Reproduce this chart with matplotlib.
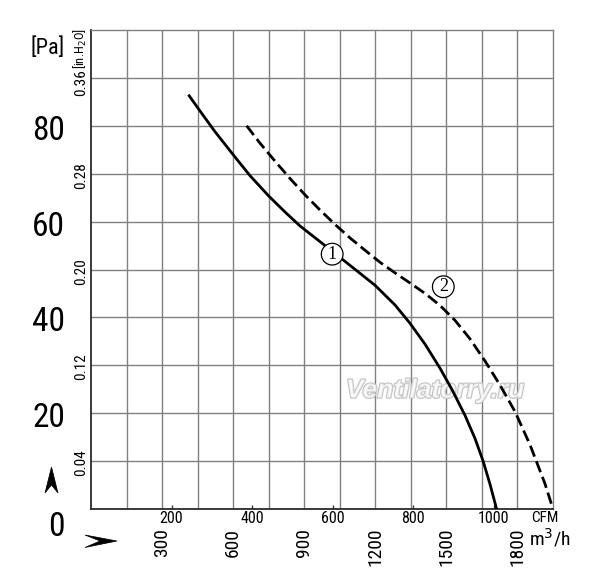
import matplotlib
matplotlib.use('Agg')
import matplotlib.pyplot as plt
from matplotlib import transforms, patheffects
from matplotlib.patches import Polygon
from matplotlib import font_manager as fm

# ---------------- data ----------------
# flow in m3/h, static pressure in Pa
curve1_flow = [411, 460, 523, 601, 671, 751, 819, 882, 967, 1072, 1199, 1283, 1346, 1410,
               1473, 1524, 1579, 1621, 1655, 1684, 1712]
curve1_pa = [86.5, 83.1, 78.8, 73.9, 69.6, 65.3, 62.0, 59.1, 55.8, 51.7, 46.7, 42.6, 38.8, 34.4,
             29.4, 24.9, 19.5, 14.7, 10.0, 5.2, 0.0]

curve2_flow = [657, 713, 777, 840, 903, 967, 1030, 1093, 1157, 1220, 1283, 1346, 1410, 1473,
               1536, 1600, 1663, 1726, 1790, 1853, 1916, 1950]
curve2_pa = [80.0, 76.4, 72.6, 69.0, 65.6, 62.4, 59.4, 56.6, 54.0, 51.5, 49.3, 47.2, 45.0, 42.5,
             39.4, 35.5, 30.9, 25.9, 20.3, 13.4, 5.3, 0.0]

pa_labels = [0, 20, 40, 60, 80]
inh2o_labels = [0.04, 0.12, 0.20, 0.28, 0.36]
cfm_labels = [200, 400, 600, 800, 1000]
m3h_labels = [300, 600, 900, 1200, 1500, 1800]

curve_tags = ['1', '2']
tag_flow = [1018, 1487]
tag_pa = [53.2, 46.4]

PA_PER_INH2O = 249.09
M3H_PER_CFM = 1.699

# ---------------- fonts ----------------
ttf = fm.fontManager.ttflist
names = {f.name for f in ttf}
NARROW = None
for cand in ['Liberation Sans Narrow', 'Roboto Condensed', 'Open Sans Condensed', 'Arial Narrow']:
    if cand in names:
        NARROW = dict(family=cand)
        break
if NARROW is None:
    NARROW = dict(family='Liberation Sans' if 'Liberation Sans' in names else 'DejaVu Sans')

W, H = 600, 586
fig = plt.figure(figsize=(W / 100, H / 100), dpi=100)
fig.patch.set_facecolor('white')
ax = fig.add_axes([91 / W, 1 - 509 / H, 462 / W, 479 / H])
ax.set_xlim(0, 1950)
ax.set_ylim(0, 100)

grid_c = '#808080'
ax.set_xticks(range(150, 1950, 150), minor=True)
ax.set_yticks(range(10, 100, 10), minor=True)
ax.grid(True, which='minor', color=grid_c, lw=1.0)
ax.set_xticks([c * M3H_PER_CFM for c in cfm_labels])
ax.set_yticks([])
ax.tick_params(axis='x', which='major', direction='in', length=3, width=1.0, color='#333333',
               labelbottom=False)
ax.tick_params(which='minor', length=0)
for s in ['top', 'right']:
    ax.spines[s].set_color(grid_c)
    ax.spines[s].set_linewidth(1.0)
for s in ['left', 'bottom']:
    ax.spines[s].set_color('#2a2a2a')
    ax.spines[s].set_linewidth(1.3)

# curves
ax.plot(curve1_flow, curve1_pa, color='black', lw=2.0, solid_capstyle='butt',
        solid_joinstyle='round', zorder=4)
ax.plot(curve2_flow, curve2_pa, color='black', lw=2.0, dashes=(4.2, 1.8),
        dash_joinstyle='round', zorder=4)

for t, fx, fy in zip(curve_tags, tag_flow, tag_pa):
    ax.text(fx, fy, t, ha='center', va='center', fontsize=13, family='Liberation Serif', zorder=6,
            bbox=dict(boxstyle='circle,pad=0.13', fc='white', ec='black', lw=0.9))

# watermark
ax.text(0.7447, 0.2471, 'Ventilatorry.ru', transform=ax.transAxes, ha='center', va='center',
        fontsize=19, family='Liberation Sans', weight='bold', style='italic',
        color=(1, 1, 1, 0.75), zorder=3,
        path_effects=[patheffects.withStroke(linewidth=1.6, foreground='#c4c4c4')])

# ---------------- axis labels ----------------
def off(dx_px, dy_px):
    return transforms.ScaledTranslation(dx_px / 100, -dy_px / 100, fig.dpi_scale_trans)

yblend = transforms.blended_transform_factory(fig.transFigure, ax.transData)
for v in pa_labels:
    dy = 18 if v == 0 else 5
    ax.text(65 / W, v, str(v), transform=yblend + off(0, dy), ha='right', va='center',
            fontsize=24, **NARROW)

for v in inh2o_labels:
    dy = 3 if v == inh2o_labels[-1] else 1
    ax.text(81.5 / W, v * PA_PER_INH2O, f'{v:.2f}', transform=yblend + off(0, dy), ha='center',
            va='center', rotation=90, fontsize=11, **NARROW)

fig.text(80 / W, 1 - 49 / H, '[in.H$_2$O]', rotation=90, ha='center', va='center', fontsize=9,
         **NARROW)
fig.text(48 / W, 1 - 48 / H, '[Pa]', ha='center', va='center', fontsize=16, **NARROW)

xblend = transforms.blended_transform_factory(ax.transData, fig.transFigure)
for c in cfm_labels:
    ax.text(c * M3H_PER_CFM, 1 - 518.5 / H, str(c), transform=xblend, ha='center', va='center',
            fontsize=11.5, **NARROW)
fig.text(544.5 / W, 1 - 518.5 / H, 'CFM', ha='center', va='center', fontsize=11, **NARROW)

for m in m3h_labels:
    ax.text(m, 1 - 528 / H, str(m), transform=xblend, ha='center', va='top', rotation=90,
            fontsize=14, **NARROW)
fig.text(529 / W, 1 - 538 / H, 'm$^3$/h', ha='left', va='center', fontsize=14, **NARROW)

# arrowheads
def fpoly(pts):
    return Polygon([(x / W, 1 - y / H) for x, y in pts], closed=True, transform=fig.transFigure,
                   fc='black', ec='black', lw=0.5)

fig.patches.append(fpoly([(51.5, 467), (58, 493), (51.5, 485), (45, 493)]))
fig.patches.append(fpoly([(117, 541), (85, 535), (100, 541), (85, 547.5)]))

fig.savefig('out.png', dpi=100)
